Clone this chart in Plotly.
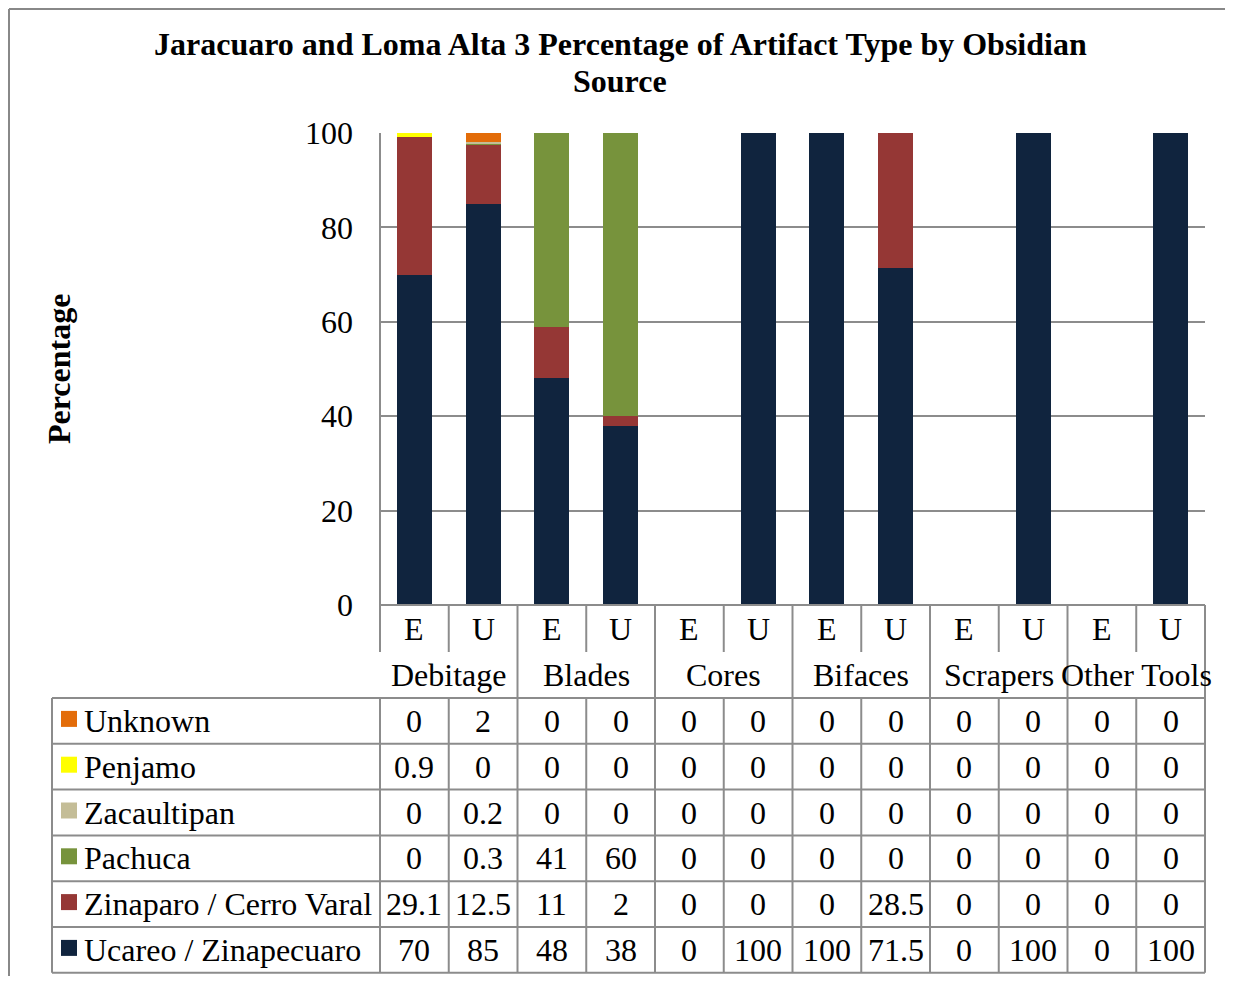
import plotly.graph_objects as go

# ---------------- data ----------------
groups = ["Debitage", "Blades", "Cores", "Bifaces", "Scrapers", "Other Tools"]
sub_labels = ["E", "U"]
series_names = ["Unknown", "Penjamo", "Zacaultipan", "Pachuca",
                "Zinaparo / Cerro Varal", "Ucareo / Zinapecuaro"]
unknown = [0, 2, 0, 0, 0, 0, 0, 0, 0, 0, 0, 0]
penjamo = [0.9, 0, 0, 0, 0, 0, 0, 0, 0, 0, 0, 0]
zacaultipan = [0, 0.2, 0, 0, 0, 0, 0, 0, 0, 0, 0, 0]
pachuca = [0, 0.3, 41, 60, 0, 0, 0, 0, 0, 0, 0, 0]
zinaparo = [29.1, 12.5, 11, 2, 0, 0, 0, 28.5, 0, 0, 0, 0]
ucareo = [70, 85, 48, 38, 0, 100, 100, 71.5, 0, 100, 0, 100]
y_ticks = [0, 20, 40, 60, 80, 100]
title_lines = ["Jaracuaro and Loma Alta 3 Percentage of Artifact Type by Obsidian", "Source"]

colors = {
    "Unknown": "#E36C09",
    "Penjamo": "#FFFF00",
    "Zacaultipan": "#C4BD97",
    "Pachuca": "#77933C",
    "Zinaparo / Cerro Varal": "#953735",
    "Ucareo / Zinapecuaro": "#10243E",
}
series_values = {
    "Unknown": unknown,
    "Penjamo": penjamo,
    "Zacaultipan": zacaultipan,
    "Pachuca": pachuca,
    "Zinaparo / Cerro Varal": zinaparo,
    "Ucareo / Zinapecuaro": ucareo,
}

# ---------------- layout constants (page pixels) ----------------
PAGE_W, PAGE_H = 1233, 984
OFF = 8                       # default body margin of the html page
FW, FH = PAGE_W - 2 * OFF, PAGE_H - 2 * OFF
PX_L, PX_R = 380, 1205        # plot area x
PY_T, PY_B = 133, 605         # plot area y (100 -> 0)
ROW_EU_B = 652                # bottom of E/U sub-row
ROW_GRP_B = 698               # bottom of group row
ROW_H = 45.8
TABLE_L = 52
FONT = "Liberation Serif, Times New Roman, serif"
LINE_C = "#8C8C8C"
FS = 32


def px(x):
    return (x - OFF) / FW


def py(y):
    return 1 - (y - OFF) / FH


n = len(ucareo)
xs = list(range(n))

fig = go.Figure()
for name in reversed(series_names):
    fig.add_trace(go.Bar(
        x=xs, y=series_values[name], name=name,
        marker=dict(color=colors[name], line=dict(width=0)),
        showlegend=False, hoverinfo="skip",
    ))

shapes = []
annotations = []


def hline(x0, x1, y, xref="paper", color=LINE_C):
    shapes.append(dict(type="line", xref=xref, yref="paper",
                       x0=x0, x1=x1, y0=py(y), y1=py(y),
                       line=dict(color=color, width=2), layer="above"))


def vline(x, y0, y1, xref="paper", color=LINE_C):
    shapes.append(dict(type="line", xref=xref, yref="paper",
                       x0=x, x1=x, y0=py(y0), y1=py(y1),
                       line=dict(color=color, width=2), layer="above"))


# outer chart border (top and left visible)
hline(px(9), px(PAGE_W), 9, color="#888888")
vline(px(9), 9, PAGE_H, color="#888888")

# left axis line: plot + E/U row, then table rows
vline(px(PX_L), PY_T, ROW_EU_B)
vline(px(PX_L), ROW_GRP_B, ROW_GRP_B + 6 * ROW_H)
# right border of table
vline(px(PX_R), PY_B, ROW_GRP_B + 6 * ROW_H)
# top line of table (x axis)
hline(px(PX_L), px(PX_R), PY_B)

for i in range(1, n):
    xb = i - 0.5
    if i % 2 == 0:
        vline(xb, PY_B, ROW_GRP_B, xref="x")
    else:
        vline(xb, PY_B, ROW_EU_B, xref="x")
    vline(xb, ROW_GRP_B, ROW_GRP_B + 6 * ROW_H, xref="x")

for r in range(7):
    hline(px(TABLE_L), px(PX_R), ROW_GRP_B + r * ROW_H)
vline(px(TABLE_L), ROW_GRP_B, ROW_GRP_B + 6 * ROW_H)

txt_font = dict(family=FONT, size=FS, color="black")

for i in xs:
    annotations.append(dict(x=i, xref="x", y=py(629), yref="paper",
                            text=sub_labels[i % 2], showarrow=False, font=txt_font,
                            xanchor="center", yanchor="middle"))
for g, gname in enumerate(groups):
    annotations.append(dict(x=2 * g + 0.5, xref="x", y=py(675), yref="paper",
                            text=gname, showarrow=False, font=txt_font,
                            xanchor="center", yanchor="middle"))

for r, name in enumerate(series_names):
    yc = ROW_GRP_B + (r + 0.5) * ROW_H
    shapes.append(dict(type="rect", xref="paper", yref="paper",
                       x0=px(61), x1=px(77), y0=py(yc + 6), y1=py(yc - 10),
                       fillcolor=colors[name], line=dict(width=0), layer="above"))
    annotations.append(dict(x=px(82), xref="paper", y=py(yc), yref="paper",
                            text=name, showarrow=False, font=txt_font,
                            xanchor="left", yanchor="middle"))
    for i, v in enumerate(series_values[name]):
        annotations.append(dict(x=i, xref="x", y=py(yc), yref="paper",
                                text=f"{v:g}", showarrow=False, font=txt_font,
                                xanchor="center", yanchor="middle"))

annotations.append(dict(x=px(59), y=py((PY_T + PY_B) / 2), xref="paper", yref="paper",
                        text="<b>Percentage</b>", textangle=-90, showarrow=False,
                        font=txt_font, xanchor="center", yanchor="middle"))
for k, line in enumerate(title_lines):
    annotations.append(dict(x=px(620), y=py(44 + 37 * k), xref="paper", yref="paper",
                            text=f"<b>{line}</b>", showarrow=False, font=txt_font,
                            xanchor="center", yanchor="middle"))

fig.update_layout(
    width=FW, height=FH, autosize=False,
    margin=dict(l=0, r=0, t=0, b=0, pad=0, autoexpand=False),
    paper_bgcolor="white", plot_bgcolor="white",
    barmode="stack", bargap=0.49,
    shapes=shapes, annotations=annotations,
    xaxis=dict(domain=[px(PX_L), px(PX_R)], range=[-0.5, n - 0.5],
               showticklabels=False, showgrid=False, zeroline=False,
               showline=False, ticks="", fixedrange=True, automargin=False),
    yaxis=dict(domain=[py(PY_B), py(PY_T)], range=[0, 100],
               tickvals=y_ticks, ticktext=[str(t) for t in y_ticks],
               tickfont=txt_font, ticks="", ticklabelstandoff=26,
               showgrid=True, gridcolor=LINE_C, gridwidth=2,
               zeroline=False, showline=False, fixedrange=True, automargin=False),
    showlegend=False,
)

fig.write_html("out.html")
